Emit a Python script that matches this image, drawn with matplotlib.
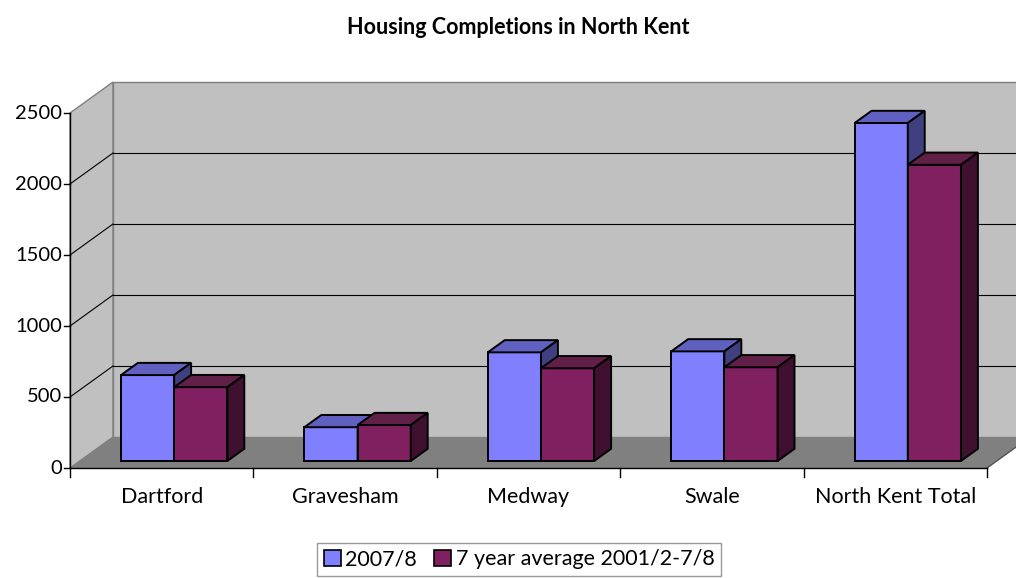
import matplotlib.pyplot as plt
from matplotlib.patches import Polygon, Patch

plt.rcParams['font.family'] = ['Lato', 'DejaVu Sans']

# data
categories = ['Dartford', 'Gravesham', 'Medway', 'Swale', 'North Kent Total']
series_names = ['2007/8', '7 year average 2001/2-7/8']
completions_0708 = [605, 238, 765, 772, 2380]
avg_7yr = [520, 253, 653, 660, 2086]
y_ticks = [0, 500, 1000, 1500, 2000, 2500]

front_cols = ['#8080FF', '#802060']
top_cols = ['#6060C0', '#602048']
side_cols = ['#404080', '#401030']

# 3D look: depth offset in data units (cat, value)
DX = 43 / 183.4
DY = 31 / 0.142
D0, D1 = 0.226, 0.62
W = 0.29


def P(x, v, d):
    return (x + d * DX, v + d * DY)


fig = plt.figure(figsize=(10.16, 5.78), dpi=100)
ax = fig.add_axes([0, 0, 1, 1])
ax.set_xlim(-70 / 183.4, (1016 - 70) / 183.4)
ax.set_ylim(-110 / 0.142, 468 / 0.142)
ax.axis('off')

n = len(categories)
ymax = y_ticks[-1]

# walls and floor
ax.add_patch(Polygon([P(0, 0, 0), P(0, ymax, 0), P(0, ymax, 1), P(0, 0, 1)],
                     facecolor='#C0C0C0', edgecolor='#808080', lw=1, zorder=0))
ax.add_patch(Polygon([P(0, 0, 1), P(n, 0, 1), P(n, ymax, 1), P(0, ymax, 1)],
                     facecolor='#C0C0C0', edgecolor='#808080', lw=1, zorder=0))
for v in y_ticks[1:-1]:
    ax.plot(*zip(P(0, v, 1), P(n, v, 1)), color='black', lw=0.8, zorder=1)
    ax.plot(*zip(P(0, v, 0), P(0, v, 1)), color='black', lw=0.8, zorder=1)
ax.add_patch(Polygon([P(0, 0, 0), P(n, 0, 0), P(n, 0, 1), P(0, 0, 1)],
                     facecolor='#808080', edgecolor='none', zorder=1))
ax.plot(*zip(P(n, 0, 0), P(n, 0, 1)), color='#505050', lw=1, zorder=1)

# axes
ax.plot(*zip(P(0, 0, 0), P(0, ymax, 0)), color='black', lw=1, zorder=2)
ax.plot(*zip(P(0, 0, 0), P(n, 0, 0)), color='black', lw=1, zorder=2)
for v in y_ticks:
    ax.plot([-0.03, 0], [v, v], color='black', lw=1, zorder=2)
    ax.text(-0.045, v, str(v), ha='right', va='center', fontsize=14.5)
for i in range(n + 1):
    ax.plot([i, i], [0, -60], color='black', lw=1, zorder=2)
for i, c in enumerate(categories):
    ax.text(i + 0.5, -205, c, ha='center', va='center', fontsize=15.5)

# bars
z = 3
for i in range(n):
    for j, vals in enumerate([completions_0708, avg_7yr]):
        v = vals[i]
        x0 = i + 0.515 - W + j * W
        x1 = x0 + W
        faces = [
            ([P(x0, 0, D0), P(x1, 0, D0), P(x1, v, D0), P(x0, v, D0)], front_cols[j]),
            ([P(x0, v, D0), P(x1, v, D0), P(x1, v, D1), P(x0, v, D1)], top_cols[j]),
            ([P(x1, 0, D0), P(x1, 0, D1), P(x1, v, D1), P(x1, v, D0)], side_cols[j]),
        ]
        for pts, col in faces:
            ax.add_patch(Polygon(pts, facecolor=col, edgecolor='black',
                                 lw=1.4, joinstyle='miter', zorder=z))
        z += 1

fig.text(0.51, 1 - 27 / 578, 'Housing Completions in North Kent',
         ha='center', va='center', fontsize=15.5, fontweight='bold')

handles = [Patch(facecolor=front_cols[k], edgecolor='black', lw=1.2)
           for k in range(2)]
leg = fig.legend(handles, series_names, loc='upper center',
                 bbox_to_anchor=(519 / 1016, 1 - 543 / 578), ncol=2,
                 frameon=True, fancybox=False, fontsize=15.5,
                 handlelength=0.8, handleheight=0.8, handletextpad=0.2,
                 columnspacing=0.8, borderpad=0.3, borderaxespad=0)
leg.get_frame().set_edgecolor('#808080')
leg.get_frame().set_linewidth(1)

fig.savefig('out.png', dpi=100)
